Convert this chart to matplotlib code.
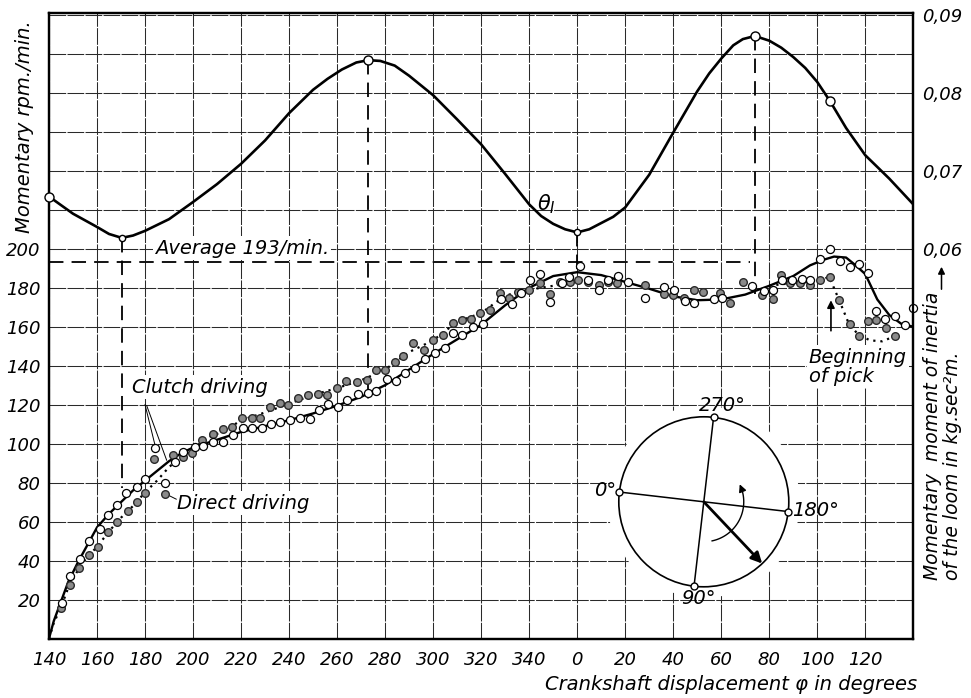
import numpy as np
import matplotlib
matplotlib.use("Agg")
import matplotlib.pyplot as plt
from matplotlib.patches import Circle
from matplotlib.ticker import FixedLocator, FuncFormatter

# ---------------- data ----------------
theta_deg = [140, 150, 160, 165, 170.3, 175, 180, 190, 200, 210, 220, 230, 240, 250, 256, 262, 268, 273,
             278, 284, 290, 300, 310, 320, 330, 340, 345, 350, 355, 360, 365, 370, 375, 380, 390, 400,
             410, 415, 420, 425, 429, 434, 440, 445, 450, 455, 460, 465.4, 472, 480, 490, 500]
theta_val = [0.0667, 0.0645, 0.0628, 0.0619, 0.0614, 0.0617, 0.0623, 0.0638, 0.0660, 0.0683,
             0.0709, 0.0739, 0.0774, 0.0804, 0.0818, 0.0830, 0.0839, 0.0842,
             0.0841, 0.0835, 0.0822, 0.0797, 0.0766, 0.0734, 0.0696, 0.0657, 0.0642, 0.0632,
             0.0625, 0.0621, 0.0625, 0.0633, 0.0641, 0.0653, 0.0695, 0.0749,
             0.0802, 0.0825, 0.0844, 0.0861, 0.0869, 0.0873, 0.0867, 0.0858, 0.0846, 0.0832,
             0.0814, 0.0789, 0.0755, 0.0720, 0.0690, 0.0657]
theta_mark_deg = [140, 170.3, 273, 360, 434, 465.4]
theta_mark_val = [0.0667, 0.0614, 0.0842, 0.0621, 0.0873, 0.0789]
theta_small_mark = [False, True, False, True, False, False]

clutch_line_deg = [140, 142, 145, 148, 152, 156, 160, 165, 170, 175, 180, 185, 190, 195, 200,
                   210, 220, 230, 240, 250, 260, 270, 280, 290, 300, 310, 320, 330, 340, 350,
                   360, 370, 380, 390, 400, 410, 420, 430, 440, 450, 457, 463, 467, 472, 476,
                   480, 485, 490, 495, 500]
clutch_line_rpm = [0, 9, 19, 29, 39, 48, 57, 64, 70, 76, 81, 86, 91, 95, 98,
                   102, 106, 109, 112, 115.5, 119.5, 124, 130, 138, 146, 153.5, 161, 171, 180, 186,
                   188, 186.5, 183, 179.5, 175.6, 173.6, 174, 176.5, 181, 186, 191.5, 194.5, 196, 195.5, 191.5,
                   187, 174, 166, 161.5, 160]

direct_line_deg = [140, 142, 145, 148, 152, 156, 160, 165, 170, 175, 180, 185, 190, 195, 200,
                   205, 210, 215, 220, 230, 240, 250, 260, 270, 280, 290, 300, 310, 320, 330,
                   340, 350, 360, 365, np.nan, 440, 450, 458, 465, 469, 473, 477, 482, 487, 492]
direct_line_rpm = [0, 8, 16, 26, 35, 42, 47, 55, 62, 68, 75, 81, 88, 93, 97,
                   102.5, 105, 108, 112, 116, 120.5, 125, 128.5, 132.5, 138, 147, 153, 162.5, 167, 176,
                   179, 181, 183, 182.5, np.nan, 181, 182.5, 183, 185.5, 174, 162, 156, 153, 152.5, 155]

clutch_pts_deg = [145.3, 148.75, 152.9, 156.8, 161.25, 164.7, 168.5, 172, 176.5, 180, 184, 188.3,
                  192.5, 196, 200.8, 204.3, 208.5, 212.4, 216.8, 221, 224.7, 228.6, 232.4, 236.25,
                  240.4, 244.6, 248.75, 252.6, 256.4, 260.2, 264, 268.9, 272.8, 276.25, 280.6, 284.6,
                  288.3, 292.5, 296.7, 300.8, 305, 308.2, 312, 316.8, 320.7, 328.3, 332.8, 336.5,
                  340.4, 344.6, 348.5, 353.6, 356.7, 361, 364.7, 368.9, 373, 376.8, 381.1, 388.3,
                  396, 400.4, 405, 408.5, 416.8, 420.3, 432.8, 437.7, 441.5, 445.3, 449.5, 453.6,
                  457, 461.25, 465.4, 469.6, 473.5, 477.2, 481, 484.4, 488.1, 492.25, 496.7, 500]
clutch_pts_rpm = [18, 32, 40.8, 50, 56, 63.3, 68.5, 74.5, 78, 81.8, 98, 79.6,
                  90.7, 95.8, 98.4, 98.7, 101, 101, 104.4, 107.8, 107.8, 108.1, 110.3, 111.2,
                  112, 113.4, 112.4, 117.2, 120.3, 118.9, 122.3, 125.7, 126.2, 127, 133.4, 132,
                  136.5, 139, 143.2, 146.6, 149, 157, 156, 160, 161.3, 174, 171.9, 177.3,
                  184.2, 187.3, 172.7, 182.2, 185.5, 191, 183.8, 178.7, 184.2, 185.9, 182.7, 174.8,
                  180.4, 178.7, 173.1, 172.2, 174.1, 174.5, 180.8, 178.2, 178.7, 184.2, 184.2, 184.7,
                  184.2, 194.5, 200.1, 193.7, 190.7, 192.1, 187.6, 168.1, 164.2, 165.4, 160.8, 169.8]

direct_pts_deg = [144.9, 148.6, 152.5, 156.6, 160.5, 164.7, 168.3, 172.7, 176.5, 180, 183.6, 188.3,
                  191.8, 195.7, 199.5, 203.6, 208.5, 212.4, 216.1, 220.3, 224.5, 228, 232, 236.25,
                  239.7, 243.9, 248, 252.2, 256, 259.9, 263.9, 268.2, 272.4, 276.25, 280, 284.2,
                  287.6, 291.8, 296.3, 300.1, 304.2, 308.2, 312, 315.7, 319.6, 323.75, 327.9, 331.8,
                  335.5, 340.1, 344.6, 348.5, 352.9, 357, 360.5, 364.7, 368.9, 373, 376.5, 388.3,
                  396, 400, 404.3, 408.5, 412.6, 419.6, 423.75, 428.9, 437, 441.5, 444.9, 448.75,
                  452.9, 457, 461.25, 465.4, 468.9, 473.5, 477.2, 481, 484.4, 488.75, 492.25]
direct_pts_rpm = [15.5, 27.4, 36, 42.8, 47, 54.7, 60, 65.2, 70.2, 74.8, 92.2, 74,
                  94.1, 93.2, 95, 102, 104.9, 107.3, 108.3, 113.4, 113.4, 113.4, 118.6, 120.9,
                  119.7, 123.2, 124.9, 125.4, 125, 128.3, 132.2, 131.7, 132.9, 137.7, 137.7, 141.9,
                  145, 151.7, 148.2, 153.2, 155.6, 162, 163.3, 164.2, 167.1, 168.8, 177.3, 174.5,
                  177.8, 179, 182.2, 176.7, 182.7, 182.7, 183.8, 182.7, 181.3, 182.7, 182.2, 181.6,
                  176.7, 176.2, 174.5, 179, 177.8, 177.3, 172.2, 183, 176.2, 174.1, 186.8, 182.5,
                  182.2, 181.6, 183.8, 185.5, 173.9, 161.6, 155.1, 163, 163.7, 159.1, 155.1]

average_rpm = 193
# vertical dashed lines from the extremes of the inertia curve down to the speed curves
drop_deg = [170.3, 273, 360, 434]
drop_theta = [0.0614, 0.0842, 0.0621, 0.0873]
drop_rpm_end = [77, 123, 188, 177]
average_end_deg = 432

x_ticks = list(range(140, 501, 20))
x_tick_labels = [str(v % 360) if v < 500 else "" for v in x_ticks]
rpm_ticks = list(range(0, 321, 20))
rpm_labelled = list(range(20, 201, 20))
theta_ticks = [0.06, 0.07, 0.08, 0.09]
theta_tick_labels = ["0,06", "0,07", "0,08", "0,09"]

crank_labels = [0, 90, 180, 270]
crank_arrow_deg = 140

# ---------------- figure ----------------
W, H = 971, 698
plt.rcParams["font.family"] = ["DejaVu Sans"]
plt.rcParams["font.style"] = "oblique"
plt.rcParams["mathtext.default"] = "it"
fig = plt.figure(figsize=(W / 100, H / 100), dpi=100)
fig.patch.set_facecolor("white")

L, R, B, T = 49, 913.3, 638.5, 13
ax = fig.add_axes([L / W, 1 - B / H, (R - L) / W, (B - T) / H])
RPM_LIM = (0, 321)
THETA_LIM = (0.01, 0.01 + 321 * 0.00025)
ax.set_xlim(140, 500)
ax.set_ylim(*RPM_LIM)
ax.set_axisbelow(True)

ax.xaxis.set_major_locator(FixedLocator(x_ticks))
ax.set_xticklabels(x_tick_labels)
ax.yaxis.set_major_locator(FixedLocator(rpm_ticks))
ax.yaxis.set_major_formatter(FuncFormatter(lambda v, p: str(int(v)) if int(v) in rpm_labelled else ""))
ax.tick_params(axis="both", length=0, labelsize=13)
ax.tick_params(axis="x", pad=9)
ax.tick_params(axis="y", pad=6)
ax.grid(True, color="#2a2a2a", lw=0.75, linestyle=(0, (16, 1.3)))
for s in ax.spines.values():
    s.set_linewidth(1.6)
    s.set_color("black")

ax2 = ax.twinx()
ax2.set_ylim(*THETA_LIM)
ax2.yaxis.set_major_locator(FixedLocator(theta_ticks))
ax2.set_yticklabels(theta_tick_labels)
ax2.tick_params(axis="y", length=0, labelsize=13, pad=6)
for s in ax2.spines.values():
    s.set_linewidth(1.6)


def theta_to_rpm(t):
    return RPM_LIM[0] + (t - THETA_LIM[0]) / (THETA_LIM[1] - THETA_LIM[0]) * (RPM_LIM[1] - RPM_LIM[0])


# dashed construction lines
dash = dict(color="black", lw=1.3, linestyle=(0, (8, 4.5)), zorder=2)
ax.plot([140, average_end_deg], [average_rpm, average_rpm], **dash)
for d, t, e in zip(drop_deg, drop_theta, drop_rpm_end):
    ax.plot([d, d], [theta_to_rpm(t), e], **dash)

# speed curves
ax.plot(clutch_line_deg, clutch_line_rpm, color="black", lw=1.7, zorder=3, solid_joinstyle="round")
ax.plot(direct_line_deg, direct_line_rpm, color="black", lw=1.6, linestyle=(0, (1, 2.2)), zorder=3)
ax.plot(direct_pts_deg, direct_pts_rpm, "o", ms=5.5, mfc="#8a8a8a", mec="#2a2a2a", mew=1.0, zorder=4, clip_on=False)
ax.plot(clutch_pts_deg, clutch_pts_rpm, "o", ms=5.8, mfc="white", mec="black", mew=0.9, zorder=5, clip_on=False)

# inertia curve
ax2.plot(theta_deg, theta_val, color="black", lw=1.9, zorder=3, solid_joinstyle="round")
for d, v, small in zip(theta_mark_deg, theta_mark_val, theta_small_mark):
    ax2.plot(d, v, "o", ms=4.5 if small else 6.5, mfc="white", mec="black", mew=1.0, zorder=4, clip_on=False)

# annotations
wb = dict(boxstyle="square,pad=0.12", fc="white", ec="none")
ax.text(220.4, 200.3, "Average 193/min.", fontsize=14, ha="center", va="center", bbox=wb, zorder=2.5)
ax2.text(347, 0.0657, r"$\theta_I$", fontsize=15, ha="center", va="center")
ax.text(174.6, 129, "Clutch driving", fontsize=14, ha="left", va="center", bbox=wb, zorder=2.5)
ax.plot([180, 184.2], [120, 99], color="black", lw=0.7, zorder=3)
ax.plot([180.7, 189], [119.5, 91.5], color="black", lw=0.7, zorder=3)
ax.text(193.3, 69.5, "Direct driving", fontsize=14, ha="left", va="center", bbox=wb, zorder=2.5)
ax.plot([193, 189.6], [71.5, 73.6], color="black", lw=0.7, zorder=3)
ax.text(456.5, 139.5, "Beginning\nof pick", fontsize=14, ha="left", va="center",
        linespacing=1.0, bbox=wb, zorder=2.5)
ax.annotate("", xy=(465.7, 175), xytext=(465.7, 156.5),
            arrowprops=dict(arrowstyle="-|>", lw=1.2, color="black", mutation_scale=11), zorder=4)

# axis titles
fig.text(25 / W, 1 - 20 / H, "Momentary rpm./min.", rotation=90, fontsize=14, ha="center", va="top")
fig.text(917 / W, 1 - 685 / H, "Crankshaft displacement φ in degrees", fontsize=14, ha="right", va="center")
fig.text(932 / W, 1 - 580 / H, "Momentary  moment of inertia", rotation=90, fontsize=13.5,
         ha="center", va="bottom")
fig.text(952 / W, 1 - 580 / H, "of the loom in kg.sec²m.", rotation=90, fontsize=13.5,
         ha="center", va="bottom")
fig.add_artist(matplotlib.patches.FancyArrowPatch((941.5 / W, 1 - 292 / H), (941.5 / W, 1 - 264 / H),
                                                  transform=fig.transFigure, arrowstyle="-|>",
                                                  mutation_scale=10, lw=1.1, color="black"))

# crank circle inset
cx, cy, rpx = 703.8, 501.8, 85.0
half = 130.0
ins = fig.add_axes([(cx - half) / W, 1 - (cy + half) / H, 2 * half / W, 2 * half / H])
ins.set_zorder(6)
lim = half / rpx
ins.set_xlim(-lim, lim)
ins.set_ylim(-lim, lim)
ins.set_aspect("equal")
ins.axis("off")
ins.patch.set_alpha(0)
ins.add_patch(Circle((0, 0), 1.13, fc="white", ec="none", zorder=1))
ins.add_patch(Circle((0, 0), 1.0, fc="none", ec="black", lw=1.2, zorder=2))
offset = 173.4


def cpos(deg, r=1.0):
    a = np.deg2rad(offset + deg)
    return r * np.cos(a), r * np.sin(a)


p = {c: cpos(c) for c in crank_labels}
ins.plot([p[0][0], p[180][0]], [p[0][1], p[180][1]], color="black", lw=1.1, zorder=3)
ins.plot([p[90][0], p[270][0]], [p[90][1], p[270][1]], color="black", lw=1.1, zorder=3)
for c in crank_labels:
    ins.plot(*p[c], "o", ms=5, mfc="white", mec="black", mew=1.0, zorder=4)
lab_style = dict(fontsize=14, zorder=5)
ins.text(p[0][0] - 0.04, p[0][1] + 0.02, "0°", ha="right", va="center", **lab_style)
ins.text(p[180][0] + 0.05, p[180][1] + 0.01, "180°", ha="left", va="center", **lab_style)
ins.text(p[270][0] + 0.1, p[270][1] + 0.03, "270°", ha="center", va="bottom", **lab_style)
ins.text(p[90][0] + 0.05, p[90][1] - 0.03, "90°", ha="center", va="top", **lab_style)
ins.annotate("", xy=cpos(crank_arrow_deg), xytext=(0, 0),
             arrowprops=dict(arrowstyle="-|>", lw=2.0, color="black", mutation_scale=16,
                             shrinkA=0, shrinkB=0), zorder=5)
arc_a = np.deg2rad(np.linspace(-78, 18, 60))
ins.plot(0.47 * np.cos(arc_a), 0.47 * np.sin(arc_a), color="black", lw=1.0, zorder=4)
a1, a2 = np.deg2rad(18), np.deg2rad(26)
ins.annotate("", xy=(0.47 * np.cos(a2), 0.47 * np.sin(a2)), xytext=(0.47 * np.cos(a1), 0.47 * np.sin(a1)),
             arrowprops=dict(arrowstyle="-|>", lw=1.0, color="black", mutation_scale=11,
                             shrinkA=0, shrinkB=0), zorder=5)

fig.savefig("out.png", dpi=100, facecolor="white")
